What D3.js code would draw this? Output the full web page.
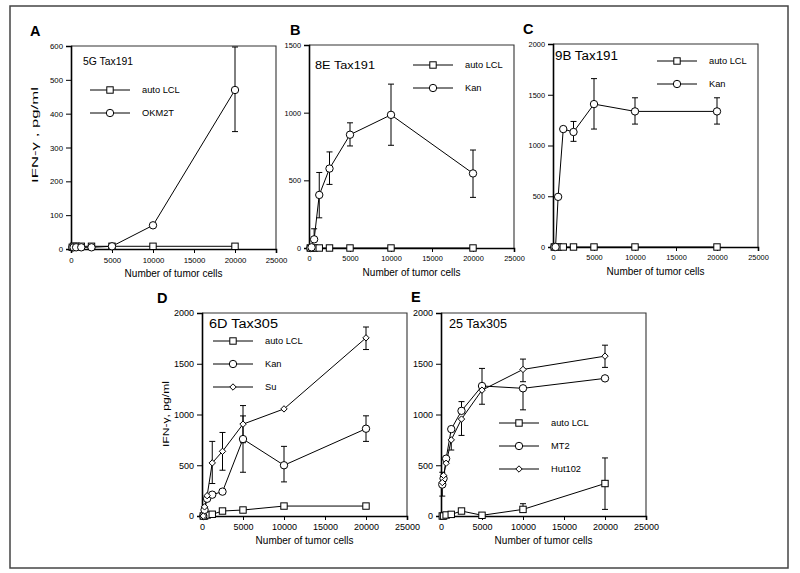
<!DOCTYPE html>
<html>
<head>
    <title>IFN-gamma release</title>
    <meta charset="UTF-8">
    <script src="https://cdnjs.cloudflare.com/ajax/libs/d3/7.8.5/d3.min.js"></script>
    <style>
        body { margin: 0; background: #fff; }
        text { font-family: Arial, "Liberation Sans", Helvetica, sans-serif; fill: #000; }
    </style>
</head>
<body>
    <script>
        // number of tumor cells per well (shared by every series)
        var cells = [156, 312, 625, 1250, 2500, 5000, 10000, 20000]
        var xTicks = [0, 5000, 10000, 15000, 20000, 25000]

        // A: 5G Tax191
        var aAuto = [5, 8, 8, 8, 8, 8, 8, 8]
        var aOKM2T = [5, 5, 5, 5, 5, 8, 70, 470]
        var aOKM2THi = [null, null, null, null, null, null, null, 597]
        var aOKM2TLo = [null, null, null, null, null, null, null, 347]

        // B: 8E Tax191
        var bAuto = [0, 0, 0, 0, 0, 0, 0, 0]
        var bKan = [0, 5, 64, 392, 587, 837, 984, 551]
        var bKanHi = [null, null, 142, 558, 710, 925, 1211, 724]
        var bKanLo = [null, null, null, 223, 470, 754, 759, 374]

        // C: 9B Tax191
        var cAuto = [0, 0, 0, 0, 0, 0, 0, 0]
        var cKan = [0, 0, 494, 1162, 1133, 1408, 1336, 1336]
        var cKanHi = [null, null, null, null, 1237, 1659, 1470, 1470]
        var cKanLo = [null, null, null, null, 1041, 1162, 1211, 1211]

        // D: 6D Tax305
        var dAuto = [0, 0, 10, 17, 49, 59, 98, 98]
        var dKan = [0, 60, 170, 210, 240, 758, 500, 860]
        var dKanHi = [null, null, null, null, null, 986, 686, 987]
        var dKanLo = [null, null, null, null, null, 431, 336, 735]
        var dSu = [0, 90, 200, 523, 637, 905, 1055, 1755]
        var dSuHi = [null, null, null, 735, 823, 1088, null, 1862]
        var dSuLo = [null, null, null, 320, 451, 722, null, 1640]

        // E: 25 Tax305
        var eAuto = [0, 0, 10, 16, 49, 7, 65, 320]
        var eAutoHi = [null, null, null, null, null, null, 121, 572]
        var eAutoLo = [null, null, null, null, null, null, null, 65]
        var eMT2 = [310, 370, 565, 856, 1036, 1281, 1258, 1356]
        var eMT2Hi = [431, null, null, null, 1127, 1454, null, null]
        var eMT2Lo = [196, null, null, null, null, 1101, 1046, null]
        var eHut = [330, 400, 520, 750, 955, 1240, 1444, 1575]
        var eHutHi = [null, null, null, null, null, null, 1546, 1683]
        var eHutLo = [null, null, null, 650, 794, null, 1323, 1464]

        var panels = [
            { letter: 'A', px: 30, py: 36, title: '5G Tax191', tx: 83, ty: 65, ts: 10.5, tw: 50,
              x0: 71, y0: 46, yMax: 600, yTicks: d3.range(0, 601, 100), fs: 7.8,
              ylabel: 'IFN-\u03b3 , pg/ml', ylx: 38, yly: 135, ylw: 96,
              lx: 90, ly: 90,
              series: [
                { name: 'auto LCL', shape: 'square', v: aAuto },
                { name: 'OKM2T', shape: 'circle', v: aOKM2T, hi: aOKM2THi, lo: aOKM2TLo }
              ] },
            { letter: 'B', px: 290, py: 35, title: '8E Tax191', tx: 315, ty: 69, ts: 11.5, tw: 60,
              x0: 309, y0: 45, yMax: 1500, yTicks: [0, 500, 1000, 1500], fs: 7.4,
              lx: 413, ly: 65,
              series: [
                { name: 'auto LCL', shape: 'square', v: bAuto },
                { name: 'Kan', shape: 'circle', v: bKan, hi: bKanHi, lo: bKanLo }
              ] },
            { letter: 'C', px: 523, py: 34, title: '9B Tax191', tx: 555, ty: 60, ts: 12, tw: 63,
              x0: 553, y0: 44, yMax: 2000, yTicks: [0, 500, 1000, 1500, 2000], fs: 7.4,
              lx: 657, ly: 61,
              series: [
                { name: 'auto LCL', shape: 'square', v: cAuto },
                { name: 'Kan', shape: 'circle', v: cKan, hi: cKanHi, lo: cKanLo }
              ] },
            { letter: 'D', px: 157, py: 303, title: '6D Tax305', tx: 209, ty: 328, ts: 12.5, tw: 69,
              x0: 202, y0: 313, yMax: 2000, yTicks: [0, 500, 1000, 1500, 2000], fs: 9,
              ylabel: 'IFN-\u03b3, pg/ml', ylx: 169, yly: 414, ylw: 66,
              lx: 213, ly: 341,
              series: [
                { name: 'auto LCL', shape: 'square', v: dAuto },
                { name: 'Kan', shape: 'circle', v: dKan, hi: dKanHi, lo: dKanLo },
                { name: 'Su', shape: 'diamond', v: dSu, hi: dSuHi, lo: dSuLo }
              ] },
            { letter: 'E', px: 411, py: 302, title: '25 Tax305', tx: 449, ty: 328, ts: 12, tw: 58,
              x0: 441, y0: 313, yMax: 2000, yTicks: [0, 500, 1000, 1500, 2000], fs: 9,
              lx: 499, ly: 423,
              series: [
                { name: 'auto LCL', shape: 'square', v: eAuto, hi: eAutoHi, lo: eAutoLo },
                { name: 'MT2', shape: 'circle', v: eMT2, hi: eMT2Hi, lo: eMT2Lo },
                { name: 'Hut102', shape: 'diamond', v: eHut, hi: eHutHi, lo: eHutLo }
              ] }
        ]

        var W = 205, H = 203

        var svg = d3.select('body')
            .append('svg')
            .attr('width', 800)
            .attr('height', 573)

        // outer frame of the figure
        svg.append('rect')
            .attr('x', 10).attr('y', 6)
            .attr('width', 778).attr('height', 562)
            .attr('fill', 'none')
            .attr('stroke', '#444')
            .attr('stroke-width', 1.5)

        function marker(g, shape, cx, cy) {
            if (shape == 'square') {
                g.append('rect')
                    .attr('x', cx - 3.2).attr('y', cy - 3.2)
                    .attr('width', 6.4).attr('height', 6.4)
                    .attr('fill', '#fff').attr('stroke', '#000').attr('stroke-width', 1)
            } else if (shape == 'circle') {
                g.append('circle')
                    .attr('cx', cx).attr('cy', cy).attr('r', 3.7)
                    .attr('fill', '#fff').attr('stroke', '#000').attr('stroke-width', 1)
            } else {
                var s = 3.2
                g.append('path')
                    .attr('d', 'M' + cx + ',' + (cy - s) + 'L' + (cx + s) + ',' + cy + 'L' + cx + ',' + (cy + s) + 'L' + (cx - s) + ',' + cy + 'Z')
                    .attr('fill', '#fff').attr('stroke', '#000').attr('stroke-width', 1)
            }
        }

        panels.forEach(function(p) {
            var x = d3.scaleLinear().domain([0, 25000]).range([p.x0, p.x0 + W])
            var y = d3.scaleLinear().domain([0, p.yMax]).range([p.y0 + H, p.y0])
            var g = svg.append('g')

            // panel letter
            g.append('text')
                .attr('x', p.px).attr('y', p.py)
                .attr('font-size', 14.5).attr('font-weight', 'bold')
                .text(p.letter)

            // top/right frame
            g.append('path')
                .attr('d', 'M' + p.x0 + ',' + p.y0 + 'H' + (p.x0 + W) + 'V' + (p.y0 + H))
                .attr('fill', 'none').attr('stroke', '#333').attr('stroke-width', 1.1)

            var ya = g.append('g')
                .attr('transform', 'translate(' + p.x0 + ',0)')
                .call(d3.axisLeft(y).tickValues(p.yTicks).tickSize(5).tickPadding(3).tickFormat(d3.format('d')))
            var xa = g.append('g')
                .attr('transform', 'translate(0,' + (p.y0 + H) + ')')
                .call(d3.axisBottom(x).tickValues(xTicks).tickSize(4).tickPadding(4).tickFormat(d3.format('d')))
            ;[ya, xa].forEach(function(a) {
                a.select('.domain').attr('stroke', '#000').attr('stroke-width', 1.6)
                a.selectAll('.tick line').attr('stroke', '#000')
                a.selectAll('text').attr('font-size', p.fs).attr('fill', '#000')
                    .style('font-family', 'Arial, "Liberation Sans", sans-serif')
            })

            g.append('text')
                .attr('x', p.x0 + W / 2).attr('y', p.y0 + H + 28)
                .attr('text-anchor', 'middle').attr('font-size', 10)
                .text('Number of tumor cells')

            // the scanned labels are stretched, so glyphs are stretched too
            if (p.ylabel) {
                g.append('text')
                    .attr('transform', 'translate(' + p.ylx + ',' + p.yly + ') rotate(-90)')
                    .attr('text-anchor', 'middle').attr('font-size', 9)
                    .attr('textLength', p.ylw).attr('lengthAdjust', 'spacingAndGlyphs')
                    .text(p.ylabel)
            }

            g.append('text')
                .attr('x', p.tx).attr('y', p.ty)
                .attr('font-size', p.ts)
                .attr('textLength', p.tw).attr('lengthAdjust', 'spacingAndGlyphs')
                .text(p.title)

            var line = d3.line()
                .defined(function(d) { return d != null })
                .x(function(d, i) { return x(cells[i]) })
                .y(function(d) { return y(d) })

            p.series.forEach(function(s) {
                g.append('path')
                    .attr('d', line(s.v))
                    .attr('fill', 'none').attr('stroke', '#000').attr('stroke-width', 1)
            })

            // error bars
            p.series.forEach(function(s) {
                if (!s.hi) return
                s.v.forEach(function(v, i) {
                    var hi = s.hi[i], lo = s.lo[i]
                    if (hi == null && lo == null) return
                    var cx = x(cells[i])
                    var top = y(hi == null ? v : hi), bot = y(lo == null ? v : lo)
                    g.append('line')
                        .attr('x1', cx).attr('x2', cx).attr('y1', top).attr('y2', bot)
                        .attr('stroke', '#000').attr('stroke-width', 1)
                    if (hi != null) g.append('line').attr('x1', cx - 3).attr('x2', cx + 3).attr('y1', top).attr('y2', top).attr('stroke', '#000')
                    if (lo != null) g.append('line').attr('x1', cx - 3).attr('x2', cx + 3).attr('y1', bot).attr('y2', bot).attr('stroke', '#000')
                })
            })

            p.series.forEach(function(s) {
                s.v.forEach(function(v, i) {
                    if (v != null) marker(g, s.shape, x(cells[i]), y(v))
                })
            })

            // legend
            p.series.forEach(function(s, k) {
                var ly = p.ly + k * 23
                g.append('line')
                    .attr('x1', p.lx).attr('x2', p.lx + 40).attr('y1', ly).attr('y2', ly)
                    .attr('stroke', '#000')
                marker(g, s.shape, p.lx + 20, ly)
                g.append('text')
                    .attr('x', p.lx + 52).attr('y', ly + 3.3)
                    .attr('font-size', 9.3)
                    .text(s.name)
            })
        })
    </script>
</body>
</html>
